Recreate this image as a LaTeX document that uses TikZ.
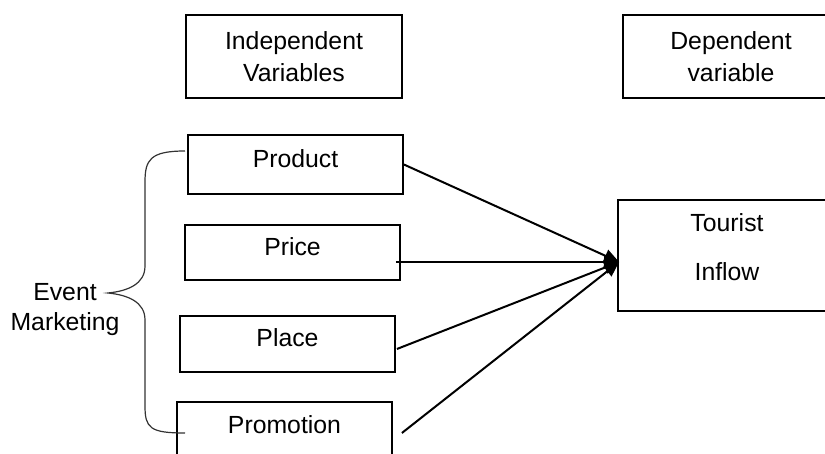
\documentclass[tikz,border=0pt]{standalone}
\usepackage{fontspec}
\setmainfont{Liberation Sans}
\usetikzlibrary{positioning,arrows.meta}
\tikzstyle{hd}=[%
      rectangle, draw=black, line width=0.9pt, fill=none,
      minimum width=108pt, minimum height=41.5pt, inner sep=0pt, align=center
]
\tikzstyle{vb}=[%
      rectangle, draw=black, line width=0.9pt, fill=none,
      minimum width=107.5pt, minimum height=28.5pt, inner sep=0pt, text depth=6pt
]
\tikzstyle{ln}=[-{Triangle[length=7.5pt,width=6.5pt]}, line width=1pt]

\begin{document}
\begin{tikzpicture}[x=0.5pt, y=-0.5pt, font=\fontsize{12.4}{16}\selectfont]
\useasboundingbox (0,0) rectangle (825,454);
\clip (0,0) rectangle (825,454);

\node[hd](indep) at (294,56.5){Independent\\Variables};
\node[hd, right=109.6pt of indep](dep){Dependent\\variable};

\node[vb, minimum height=29.5pt, below=17.6pt of indep, xshift=0.75pt](product){Product};
\node[vb, minimum height=27.5pt, below=14.6pt of product, xshift=-1.5pt](price){Price};
\node[vb, minimum height=28pt, below=17.1pt of price, xshift=-2.5pt](place){Place};
\node[vb, minimum height=29pt, below=14.1pt of place, xshift=-1.5pt](promotion){Promotion};

\node[hd, minimum width=109pt, minimum height=55.5pt, text depth=8pt,
      right=108.1pt of price, yshift=-1.5pt](tourist){Tourist\\[8.5pt]Inflow};

\node[align=center](em) at (65,310){Event\\[-1pt]Marketing};

% brace
\draw[line width=0.6pt, black!80](185,151) .. controls (150,151) and (145,160) .. (145,182)
   -- (145,266) .. controls (145,284) and (128,291) .. (108,293)
   .. controls (128,295) and (145,302) .. (145,320)
   -- (145,406) .. controls (145,428) and (150,433) .. (185,433);

\coordinate (hub) at ([shift={(2,6.5)}]tourist.west);
\draw[ln](product.east) -- (hub);
\draw[ln]([shift={(-5,9.5)}]price.east) -- (hub);
\draw[ln]([shift={(1,5)}]place.east) -- (hub);
\draw[ln]([shift={(9,2)}]promotion.east) -- (hub);
\end{tikzpicture}
\end{document}
